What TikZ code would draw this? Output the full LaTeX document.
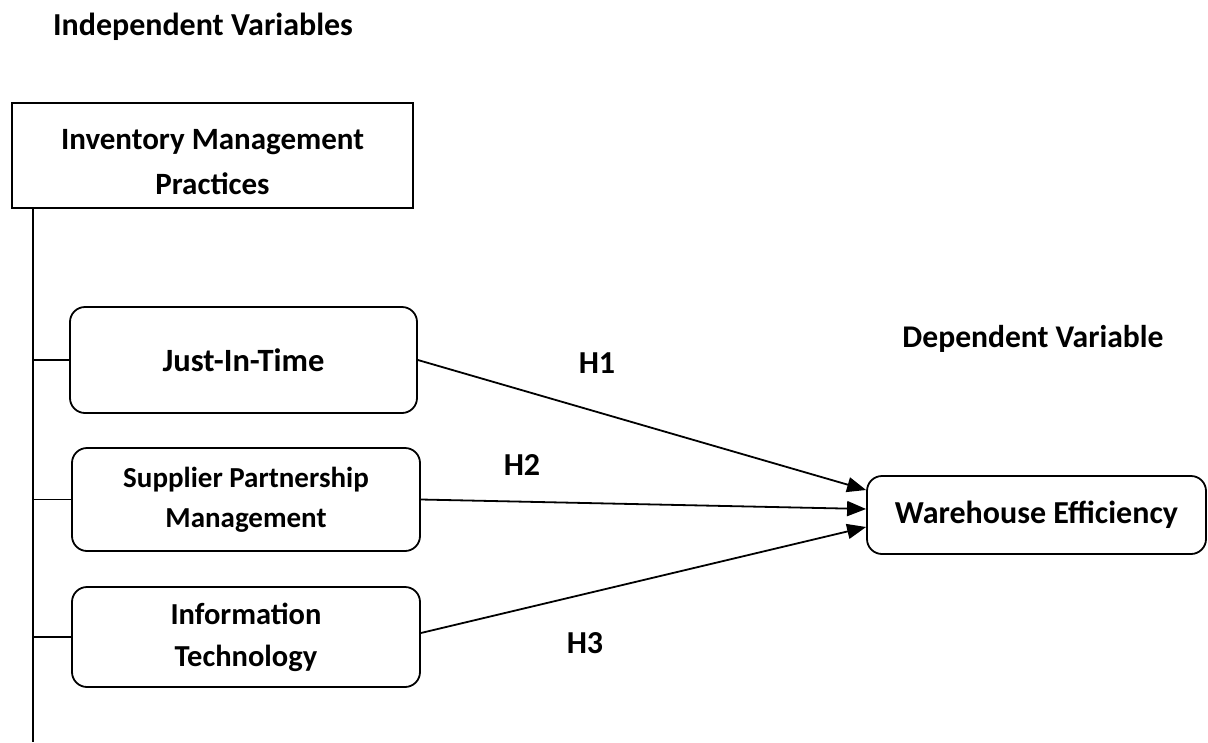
\documentclass[tikz,border=0pt]{standalone}
\usepackage{fontspec}
\setmainfont{Carlito}
\usetikzlibrary{arrows.meta,calc}
\begin{document}
\begin{tikzpicture}[x=1pt,y=-1pt,
  lbl/.style={font=\bfseries\fontsize{32}{38}\selectfont, inner sep=0pt},
  sq/.style={draw, line width=2pt, minimum width=401pt, minimum height=105pt, font=\bfseries\fontsize{31}{45}\selectfont, align=center, inner sep=0pt},
  rbox/.style={draw, line width=1.8pt, rounded corners=15pt, align=center, inner sep=0pt},
  tie/.style={line width=1.8pt},
  arr/.style={line width=1.8pt, -{Triangle[length=19pt,width=15pt]}}
]
\useasboundingbox (0,0) rectangle (1208,742);
\node[lbl] (iv) at (203,27) {Independent Variables};
\node[sq] (imp) at (212.5,155.5) {\rule{0pt}{34pt}Inventory Management\\Practices};
\node[rbox, minimum width=347pt, minimum height=106pt, font=\bfseries\fontsize{32.5}{38}\selectfont] (jit) at (243.5,360) {Just-In-Time};
\node[rbox, minimum width=348pt, minimum height=103pt, font=\bfseries\fontsize{29}{40}\selectfont] (spm) at (246,499.5) {Supplier Partnership\\Management};
\node[rbox, minimum width=348pt, minimum height=100pt, font=\bfseries\fontsize{30.5}{42}\selectfont] (it) at (246,637) {Information\\Technology};
\node[rbox, minimum width=339pt, minimum height=78pt, font=\bfseries\fontsize{32}{38}\selectfont] (we) at (1036.5,515) {Warehouse Efficiency};
\node[lbl, font=\bfseries\fontsize{31.6}{38}\selectfont] (dv) at (1033,339) {Dependent Variable};
\node[lbl] (h1) at (597,363) {H1};
\node[lbl] (h2) at (522,465) {H2};
\node[lbl] (h3) at (585,643) {H3};
\coordinate (vtop) at (33,208);
\coordinate (vbot) at (33,742);
\draw[tie] (vtop) -- (vbot);
\draw[tie] (vtop |- jit.west) -- (jit.west);
\draw[tie] (vtop |- spm.west) -- (spm.west);
\draw[tie] (vtop |- it.west) -- (it.west);
\draw[arr] (jit.east) -- ($(we.west)+(0,-25)$);
\draw[arr] (spm.east) -- ($(we.west)+(0,-6)$);
\draw[arr] ($(it.east)+(0,-4)$) -- ($(we.west)+(0,12)$);
\end{tikzpicture}
\end{document}
